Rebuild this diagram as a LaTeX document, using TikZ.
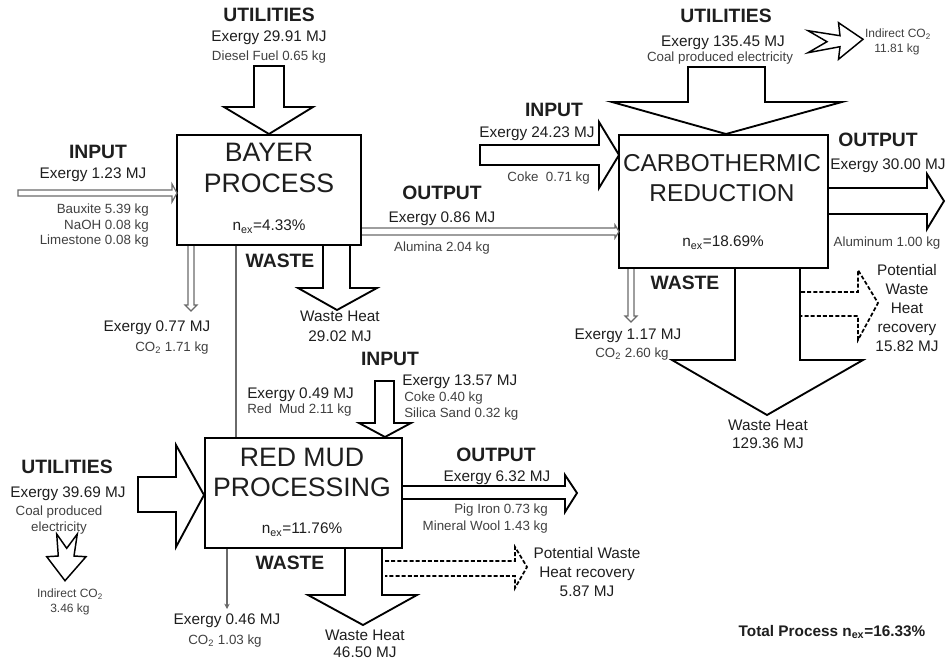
\documentclass[tikz,border=0pt]{standalone}
\usepackage{fontspec}
\setmainfont{Liberation Sans}
\usetikzlibrary{calc,arrows.meta}
\definecolor{txt}{HTML}{1E1E1E}
\definecolor{gln}{HTML}{6A6A6A}
\begin{document}
\begin{tikzpicture}[x=0.75pt,y=-0.75pt,
  box/.style={draw=black, line width=1.9pt, fill=white, inner sep=0pt},
  blk/.style={draw=black, line width=1.4pt, fill=white, line join=miter},
  thinarr/.style={draw=gln, line width=0.9pt, fill=white, line join=miter},
  dsh/.style={draw=black, line width=1.3pt, dash pattern=on 3pt off 1.6pt, line join=miter},
  hd/.style={font=\fontsize{14.5}{17}\selectfont\bfseries, text=txt, inner sep=0pt, text height=0.72em, text depth=0pt},
  ex/.style={font=\fontsize{11.5}{13}\selectfont, text=txt, inner sep=0pt, text height=0.72em, text depth=0pt},
  sm/.style={font=\fontsize{10}{12}\selectfont, text=txt!85, inner sep=0pt, text height=0.72em, text depth=0pt},
  tiny/.style={font=\fontsize{9}{11}\selectfont, text=txt!85, inner sep=0pt, text height=0.72em, text depth=0pt},
  big/.style={font=\fontsize{20}{24}\selectfont, text=txt, inner sep=0pt, text height=0.72em, text depth=0pt},
  bigc/.style={font=\fontsize{18.3}{22}\selectfont, text=txt, inner sep=0pt, text height=0.72em, text depth=0pt},
  ml/.style={font=\fontsize{11.5}{14.25}\selectfont, text=txt, inner sep=0pt, align=center}
]
\useasboundingbox (0,0) rectangle (948,660);

% ---------------- boxes ----------------
\node[box, minimum width=138pt, minimum height=82.5pt] (bayer) at (269,190) {};
\node[box, minimum width=156.75pt, minimum height=99.75pt] (carbo) at (723.5,201.5) {};
\node[box, minimum width=147.75pt, minimum height=82.5pt] (redmud) at (303.5,493) {};

% ---------------- BAYER PROCESS ----------------
\draw[blk] (254,66) -- (284,66) -- (284,107) -- (313,107) -- (269,134) -- (224,107) -- (254,107) -- cycle;
\node[hd] (bu) at (269,17) {UTILITIES};
\node[ex] (bue) at (269,37) {Exergy 29.91 MJ};
\node[sm] (bud) at (269,56) {Diesel Fuel 0.65 kg};

\draw[thinarr] (18,190) -- (172,190) -- (172,184) -- (177,193) -- (172,202) -- (172,196) -- (18,196) -- cycle;
\node[hd] (bi) at (98,154) {INPUT};
\node[ex] (bie) at (93,174) {Exergy 1.23 MJ};
\node[sm, anchor=east] (bi1) at (149,209) {Bauxite 5.39 kg};
\node[sm, anchor=east] (bi2) at (149,225) {NaOH 0.08 kg};
\node[sm, anchor=east] (bi3) at (149,240) {Limestone 0.08 kg};

\node[big] (bt1) at (269,157) {BAYER};
\node[big] (bt2) at (269,188) {PROCESS};
\node[ex] (bn) at (269,226) {n\textsubscript{ex}=4.33\%};

% CO2 from Bayer
\draw[thinarr] (188,246) -- (188,305) -- (185,305) -- (191,311) -- (197,305) -- (194,305) -- (194,246);
\node[ex] (bce) at (157,327) {Exergy 0.77 MJ};
\node[sm] (bcc) at (172,347) {CO\textsubscript{2} 1.71 kg};

% Waste heat Bayer
\draw[blk] (323,246) -- (323,288) -- (298,288) -- (337,310) -- (377,288) -- (350,288) -- (350,246);
\node[hd] (bw) at (280,263) {WASTE};
\node[ex] (bwh) at (340,317) {Waste Heat};
\node[ex] (bwv) at (340,337) {29.02 MJ};

% Red mud connector
\coordinate (rmx) at (236,0);
\draw[draw=gln, line width=1.5pt] (bayer.south -| rmx) -- (redmud.north -| rmx);
\node[ex, anchor=west] (rme) at (247,394) {Exergy 0.49 MJ};
\node[sm, anchor=west] (rmm) at (247,409) {Red\ \ Mud 2.11 kg};

% Output alumina
\draw[thinarr] (362,228) -- (615,228) -- (615,225) -- (619,231.5) -- (615,238) -- (615,235) -- (362,235);
\node[hd] (bo) at (442,195) {OUTPUT};
\node[ex] (boe) at (442,218) {Exergy 0.86 MJ};
\node[sm] (boa) at (442,247) {Alumina 2.04 kg};

% ---------------- CARBOTHERMIC ----------------
\draw[blk] (688,67) -- (765,67) -- (765,102) -- (842,102) -- (726,134) -- (612,102) -- (688,102) -- cycle;
\node[hd] (cu) at (726,18) {UTILITIES};
\node[ex] (cue) at (723,42) {Exergy 135.45 MJ};
\node[sm] (cuc) at (720,57) {Coal produced electricity};

\draw[blk, line width=1.1pt] (808,30.7) -- (840,35.7) -- (838.5,22.7) -- (863,39.3) -- (838.5,59.3) -- (840,46.7) -- (808,52.7) -- (827,41.7) -- cycle;
\node[tiny] (ci1) at (898,33) {Indirect CO\textsubscript{2}};
\node[tiny] (ci2) at (897,48) {11.81 kg};

\draw[blk] (480,145) -- (599,145) -- (599,122) -- (619,155) -- (599,188) -- (599,165) -- (480,165) -- cycle;
\node[hd] (ci) at (554,112) {INPUT};
\node[ex] (cie) at (537,133) {Exergy 24.23 MJ};
\node[sm, anchor=east] (cik) at (590,177) {Coke\ \ 0.71 kg};

\node[bigc] (ct1) at (722,167) {CARBOTHERMIC};
\node[bigc] (ct2) at (722,197) {REDUCTION};
\node[ex] (cn) at (723,242) {n\textsubscript{ex}=18.69\%};

\draw[blk] (829,188) -- (927,188) -- (927,174) -- (944,201) -- (927,229) -- (927,214) -- (829,214);
\node[hd] (co) at (878,142) {OUTPUT};
\node[ex] (coe) at (888,165) {Exergy 30.00 MJ};
\node[sm] (coa) at (887,242) {Aluminum 1.00 kg};

\draw[thinarr] (628,269) -- (628,316) -- (625,316) -- (631,322) -- (637,316) -- (634,316) -- (634,269);
\node[hd] (cw) at (685,285) {WASTE};
\node[ex] (cce) at (628,335) {Exergy 1.17 MJ};
\node[sm] (ccc) at (632,353) {CO\textsubscript{2} 2.60 kg};

\draw[blk] (735,269) -- (735,360) -- (672,360) -- (767,415) -- (863,360) -- (800,360) -- (800,269);
\node[ex] (cwh) at (768,426) {Waste Heat};
\node[ex] (cwv) at (768,444) {129.36 MJ};

\draw[dsh] (801,292) -- (858,292) -- (858,270) -- (878,303) -- (858,340) -- (858,316) -- (801,316);
\node[ml] (cpw) at (907,308) {Potential\\Waste\\Heat\\recovery\\15.82 MJ};

% ---------------- RED MUD ----------------
\draw[blk] (375,381) -- (394,381) -- (394,423) -- (411,423) -- (385,437) -- (359,423) -- (375,423) -- cycle;
\node[hd] (ri) at (390,361) {INPUT};
\node[ex, anchor=west] (rie) at (402,381) {Exergy 13.57 MJ};
\node[sm, anchor=west] (ric) at (404,397) {Coke 0.40 kg};
\node[sm, anchor=west] (ris) at (404,413) {Silica Sand 0.32 kg};

\node[big] (rt1) at (302,462) {RED MUD};
\node[big] (rt2) at (302,492) {PROCESSING};
\node[ex] (rn) at (302,529) {n\textsubscript{ex}=11.76\%};

\draw[blk] (138,477) -- (176,477) -- (176,445) -- (204,495) -- (176,547) -- (176,512) -- (138,512) -- cycle;
\node[hd] (ru) at (67,469) {UTILITIES};
\node[ex] (rue) at (68,493) {Exergy 39.69 MJ};
\node[sm] (ruc1) at (59,511) {Coal produced};
\node[sm] (ruc2) at (59,527) {electricity};

\draw[blk, line width=1.1pt] (56.7,534) -- (58.3,556) -- (46.7,556.7) -- (65,580.7) -- (86,556.7) -- (74,556) -- (77.3,534) -- (66.7,548.3) -- cycle;
\node[tiny] (rci1) at (70,593) {Indirect CO\textsubscript{2}};
\node[tiny] (rci2) at (70,608) {3.46 kg};

\draw[blk] (403,486) -- (565,486) -- (565,475) -- (577,493) -- (565,512) -- (565,499) -- (403,499);
\node[hd] (ro) at (496,457) {OUTPUT};
\node[ex] (roe) at (497,477) {Exergy 6.32 MJ};
\node[sm, anchor=east] (rop) at (548,509) {Pig Iron 0.73 kg};
\node[sm, anchor=east] (rom) at (548,526) {Mineral Wool 1.43 kg};

\coordinate (rcx) at (227,0);
\coordinate (rcend) at (227,609);
\draw[draw=gln, line width=1.5pt, -{Stealth[length=4pt,width=4pt]}] (redmud.south -| rcx) -- (rcend);
\node[hd] (rw) at (290,565) {WASTE};
\node[ex] (rce) at (227,620) {Exergy 0.46 MJ};
\node[sm] (rcc) at (225,640) {CO\textsubscript{2} 1.03 kg};

\draw[blk] (345,549) -- (345,595) -- (308,595) -- (363,625) -- (417,595) -- (382,595) -- (382,549);
\node[ex] (rwh) at (365,636) {Waste Heat};
\node[ex] (rwv) at (365,653) {46.50 MJ};

\draw[dsh] (385,561) -- (515,561) -- (515,547) -- (527,567) -- (515,588) -- (515,576) -- (385,576);
\node[ml] (rpw) at (587,572) {Potential Waste\\Heat recovery\\5.87 MJ};

\node[font=\fontsize{11.5}{13}\selectfont\bfseries, text=txt, inner sep=0pt] (tot) at (832,632) {Total Process n\textsubscript{ex}=16.33\%};
\end{tikzpicture}
\end{document}
